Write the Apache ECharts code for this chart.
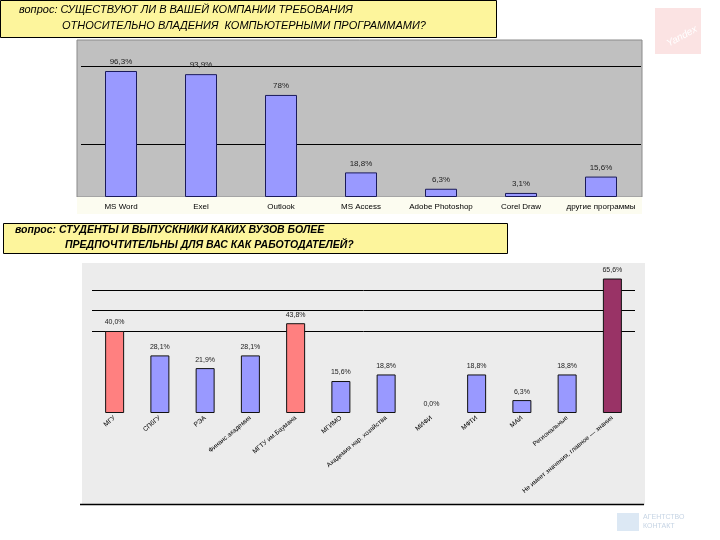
<!DOCTYPE html>
<html>
<head>
<meta charset="utf-8">
<script src="https://cdn.jsdelivr.net/npm/echarts@6/dist/echarts.min.js"></script>
<style>html,body{margin:0;padding:0;background:#fff}#c{width:720px;height:540px}</style>
</head>
<body>
<div id="c"></div>
<script>
// Top chart: software requirements
var progCategories = ["MS Word", "Exel", "Outlook", "MS Access", "Adobe Photoshop", "Corel Draw", "другие программы"];
var progValues = [96.3, 93.9, 78, 18.8, 6.3, 3.1, 15.6];

// Bottom chart: preferred universities
var uniCategories = ["МГУ", "СПбГУ", "РЭА", "Финанс.академия", "МГТУ им.Баумана", "МГИМО", "Академия нар. хозяйства", "МИФИ", "МФТИ", "МАИ", "Региональные", "Не имеет значения, главное — знания"];
var uniValues = [40.0, 28.1, 21.9, 28.1, 43.8, 15.6, 18.8, 0.0, 18.8, 6.3, 18.8, 65.6];
var uniColors = ["#ff8080", "#9999ff", "#9999ff", "#9999ff", "#ff8080", "#9999ff", "#9999ff", "#9999ff", "#9999ff", "#9999ff", "#9999ff", "#993366"];

var title1a = "вопрос: СУЩЕСТВУЮТ ЛИ В ВАШЕЙ КОМПАНИИ ТРЕБОВАНИЯ";
var title1b = "ОТНОСИТЕЛЬНО ВЛАДЕНИЯ  КОМПЬЮТЕРНЫМИ ПРОГРАММАМИ?";
var title2a = "вопрос: СТУДЕНТЫ И ВЫПУСКНИКИ КАКИХ ВУЗОВ БОЛЕЕ";
var title2b = "ПРЕДПОЧТИТЕЛЬНЫ ДЛЯ ВАС КАК РАБОТОДАТЕЛЕЙ?";

var T = 'rgba(0,0,0,0)';
function pctTop(p) { var v = p.value; return (v % 1 === 0 ? v : v.toFixed(1).replace('.', ',')) + '%'; }
function pctBot(p) { return p.value.toFixed(1).replace('.', ',') + '%'; }

var chart = echarts.init(document.getElementById('c'), null, {renderer: 'canvas'});
chart.setOption({
  animation: false,
  backgroundColor: '#ffffff',
  textStyle: {fontFamily: 'Liberation Sans, Arial, sans-serif'},
  graphic: [
    {type: 'rect', z: -10, shape: {x: 77, y: 40, width: 565, height: 157}, style: {fill: '#c0c0c0', stroke: '#8a8a8a', lineWidth: 1}},
    {type: 'rect', z: -10, shape: {x: 77, y: 197, width: 565, height: 17}, style: {fill: '#fcfcf0'}},
    {type: 'rect', z: -10, shape: {x: 82, y: 263, width: 563, height: 242}, style: {fill: '#ececec'}},
    {type: 'line', z: -5, shape: {x1: 80, y1: 504.5, x2: 644, y2: 504.5}, style: {stroke: '#000', lineWidth: 1.5}},
    {type: 'rect', shape: {x: 0.5, y: 0.5, width: 496, height: 37}, style: {fill: '#fdf59c', stroke: '#000', lineWidth: 1}},
    {type: 'text', left: 19, top: 4, style: {text: title1a, font: 'italic 11px "Liberation Sans Narrow", "Liberation Sans", sans-serif', fill: '#000'}},
    {type: 'text', left: 62, top: 20, style: {text: title1b, font: 'italic 11px "Liberation Sans Narrow", "Liberation Sans", sans-serif', fill: '#000'}},
    {type: 'rect', shape: {x: 3.5, y: 223.5, width: 504, height: 30}, style: {fill: '#fdf59c', stroke: '#000', lineWidth: 1}},
    {type: 'text', left: 15, top: 225, style: {text: title2a, font: 'italic bold 10.5px "Liberation Sans", sans-serif', fill: '#000'}},
    {type: 'text', left: 65, top: 240, style: {text: title2b, font: 'italic bold 10.5px "Liberation Sans", sans-serif', fill: '#000'}},
    {type: 'rect', shape: {x: 655, y: 8, width: 46, height: 46}, style: {fill: '#fbe3e3'}},
    {type: 'text', x: 665, y: 40, rotation: 0.5, style: {text: 'Yandex', font: 'italic 10px "Liberation Sans", sans-serif', fill: '#ffffff'}},
    {type: 'rect', shape: {x: 617, y: 513, width: 22, height: 18}, style: {fill: '#dce8f4'}},
    {type: 'text', left: 643, top: 513, style: {text: 'АГЕНТСТВО\nКОНТАКТ', font: '7px "Liberation Sans", sans-serif', fill: '#c6d4e4', lineHeight: 9}}
  ],
  grid: [
    {left: 81, right: 79, top: 40, bottom: 343},
    {left: 92, right: 85, top: 269.5, bottom: 127}
  ],
  xAxis: [
    {type: 'category', gridIndex: 0, data: progCategories,
     axisLine: {show: false}, axisTick: {show: false},
     axisLabel: {fontSize: 8, color: '#000', margin: 6, interval: 0}},
    {type: 'category', gridIndex: 1, data: uniCategories,
     axisLine: {show: false}, axisTick: {show: false},
     axisLabel: {fontSize: 6.5, color: '#000', margin: 4, interval: 0, rotate: 40}}
  ],
  yAxis: [
    {type: 'value', gridIndex: 0, min: 0, max: 120, interval: 20,
     axisLine: {show: false}, axisTick: {show: false}, axisLabel: {show: false},
     splitLine: {show: true, lineStyle: {width: 1, color: [T, T, '#000', T, T, '#000', T]}}},
    {type: 'value', gridIndex: 1, min: 0, max: 70, interval: 10,
     axisLine: {show: false}, axisTick: {show: false}, axisLabel: {show: false},
     splitLine: {show: true, lineStyle: {width: 1, color: [T, T, T, T, '#000', '#000', '#000', T]}}}
  ],
  series: [
    {type: 'bar', xAxisIndex: 0, yAxisIndex: 0, data: progValues, barWidth: 32,
     itemStyle: {color: '#9999ff', borderColor: '#1a1a5a', borderWidth: 1},
     label: {show: true, position: 'top', distance: 5, fontSize: 8, color: '#222', formatter: pctTop}},
    {type: 'bar', xAxisIndex: 1, yAxisIndex: 1, barWidth: 19,
     data: uniValues.map(function (v, i) {
       return {value: v, itemStyle: {color: uniColors[i], borderWidth: v === 0 ? 0 : 1}};
     }),
     itemStyle: {borderColor: '#111', borderWidth: 1},
     label: {show: true, position: 'top', distance: 5, fontSize: 7, color: '#222', formatter: pctBot}}
  ]
});
</script>
</body>
</html>
